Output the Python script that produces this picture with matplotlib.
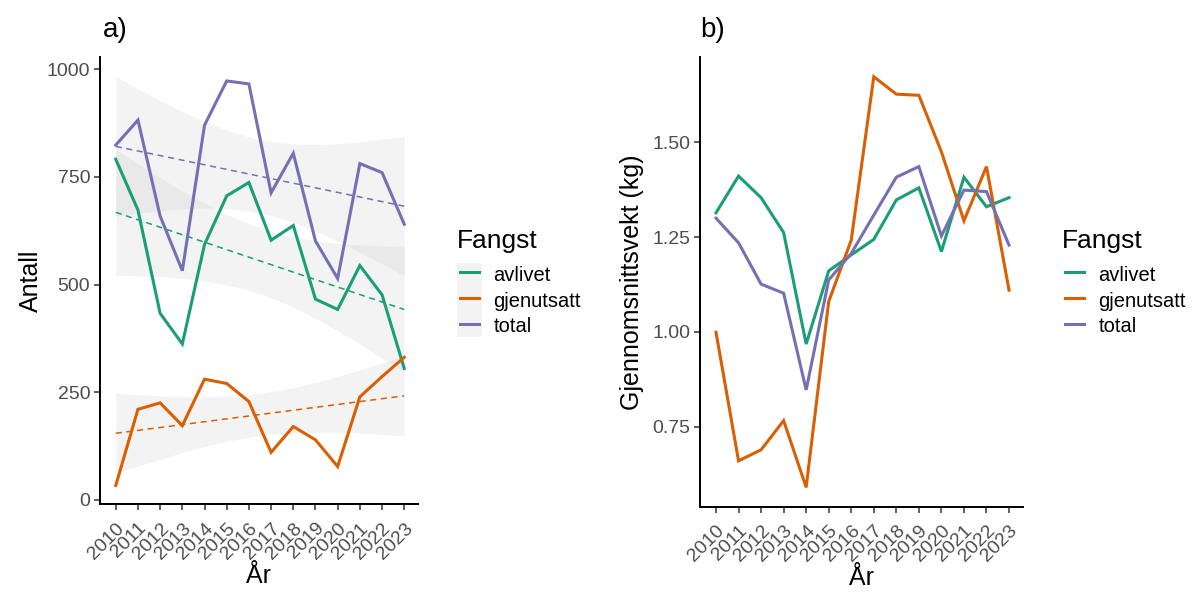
import numpy as np
import matplotlib
matplotlib.use("Agg")
import matplotlib.pyplot as plt
from matplotlib.lines import Line2D
from matplotlib.patches import Rectangle

plt.rcParams['font.family'] = ['Liberation Sans', 'DejaVu Sans']

years = [2010, 2011, 2012, 2013, 2014, 2015, 2016, 2017, 2018, 2019, 2020, 2021, 2022, 2023]
series_names = ["avlivet", "gjenutsatt", "total"]

antall_avlivet = [791, 673, 433, 362, 593, 706, 737, 603, 637, 466, 442, 544, 476, 305]
antall_gjenutsatt = [33, 210, 225, 172, 280, 270, 228, 110, 170, 139, 77, 239, 286, 331]
antall_total = [824, 882, 659, 532, 870, 973, 966, 713, 805, 601, 514, 781, 760, 640]

vekt_avlivet = [1.314, 1.411, 1.354, 1.262, 0.968, 1.161, 1.203, 1.244, 1.348, 1.380, 1.212, 1.408, 1.330, 1.354]
vekt_gjenutsatt = [0.999, 0.660, 0.689, 0.766, 0.590, 1.080, 1.242, 1.673, 1.627, 1.624, 1.475, 1.293, 1.436, 1.110]
vekt_total = [1.300, 1.235, 1.126, 1.102, 0.847, 1.137, 1.207, 1.308, 1.408, 1.436, 1.253, 1.374, 1.370, 1.229]

colors = ["#1B9E77", "#D95F02", "#7570B3"]

W, H = 1197, 592
fig = plt.figure(figsize=(W / 100, H / 100), dpi=100)

def px_axes(l, t, r, b):
    return fig.add_axes([l / W, (H - b) / H, (r - l) / W, (b - t) / H])

axA = px_axes(100, 57, 418, 504.3)
axB = px_axes(700, 57, 1023, 506.7)

x = np.array(years, dtype=float)
T975 = 2.1788  # t quantile, df = 12

def lm_band(ax, y, color):
    y = np.asarray(y, dtype=float)
    n = len(x)
    slope, icpt = np.polyfit(x, y, 1)
    xs = np.linspace(x.min(), x.max(), 100)
    fit = icpt + slope * xs
    resid = y - (icpt + slope * x)
    s = np.sqrt(np.sum(resid ** 2) / (n - 2))
    se = s * np.sqrt(1 / n + (xs - x.mean()) ** 2 / np.sum((x - x.mean()) ** 2))
    ax.fill_between(xs, fit - T975 * se, fit + T975 * se, color="#bebebe", alpha=0.18, lw=0, zorder=1)
    ax.plot(xs, fit, color=color, lw=1.1, ls=(0, (4, 3)), zorder=2)

for vals, c in zip([antall_avlivet, antall_gjenutsatt, antall_total], colors):
    lm_band(axA, vals, c)
for vals, c in zip([antall_avlivet, antall_gjenutsatt, antall_total], colors):
    axA.plot(years, vals, color=c, lw=2.2, zorder=3, solid_joinstyle='miter')
for vals, c in zip([vekt_avlivet, vekt_gjenutsatt, vekt_total], colors):
    axB.plot(years, vals, color=c, lw=2.2, zorder=3, solid_joinstyle='miter')

axA.set_ylim(-10.7, 1028.6)
axA.set_yticks([0, 250, 500, 750, 1000])
axB.set_ylim(0.539, 1.725)
axB.set_yticks([0.75, 1.00, 1.25, 1.50])
axB.set_yticklabels(["0.75", "1.00", "1.25", "1.50"])

for ax in (axA, axB):
    ax.set_xlim(2009.29, 2023.62)
    ax.set_xticks(years)
    ax.set_xticklabels([str(y) for y in years], rotation=45, ha='right', va='top',
                       rotation_mode='anchor')
    for side in ("top", "right"):
        ax.spines[side].set_visible(False)
    for side in ("left", "bottom"):
        ax.spines[side].set_linewidth(1.4)
    ax.tick_params(axis='both', length=4, width=1.1, color="#333333",
                   labelsize=14, labelcolor="#4d4d4d", pad=3)
    ax.tick_params(axis='x', pad=7)
    ax.set_xlabel("År", fontsize=18, labelpad=1)

axA.set_ylabel("Antall", fontsize=18, labelpad=3)
axB.set_ylabel("Gjennomsnittsvekt (kg)", fontsize=18, labelpad=6)

fig.text(103 / W, 1 - 30 / H, "a)", fontsize=20, va='center', ha='left')
fig.text(700 / W, 1 - 30 / H, "b)", fontsize=20, va='center', ha='left')

def make_legend(title_xy, key_x, rows_cy, grey):
    fig.text(title_xy[0] / W, 1 - title_xy[1] / H, "Fangst", fontsize=19,
             ha='left', va='baseline')
    if grey:
        fig.patches.append(Rectangle(((key_x - 3.3) / W, 1 - 337.3 / H), 25 / W, 74 / H,
                                     transform=fig.transFigure, facecolor="#f3f3f3",
                                     edgecolor="none", zorder=0))
    handles = [Line2D([], [], color=c, lw=2.2) for c in colors]
    fig.legend(handles, series_names, loc='center left',
               bbox_to_anchor=(key_x / W, 1 - rows_cy / H),
               frameon=False, fontsize=14.5, borderaxespad=0,
               handlelength=0.96, handleheight=1.2, handletextpad=0.7,
               labelspacing=0.22, borderpad=0)

make_legend((457, 248), 460, 300, True)
make_legend((1062, 248), 1065, 300, False)

fig.savefig("out.png", dpi=100, facecolor="white")
